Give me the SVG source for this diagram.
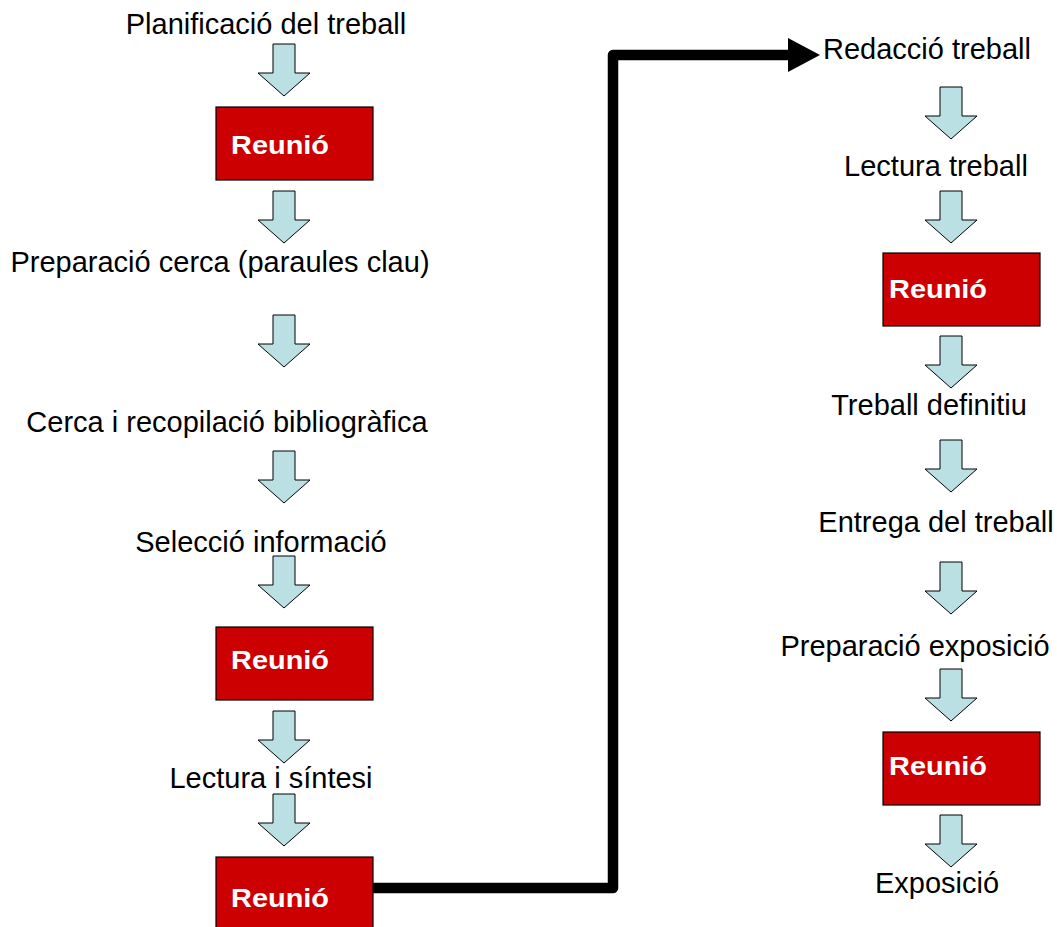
<svg xmlns="http://www.w3.org/2000/svg" xmlns:xlink="http://www.w3.org/1999/xlink" width="1057" height="927" viewBox="0 0 1057 927">
  <style>
    .lbl { font-family: "Liberation Sans", Arial, sans-serif; font-size: 29px; fill: #000; text-anchor: middle; }
    .meet rect { fill: #CC0000; stroke: #000; stroke-width: 1.2; }
    .meet text { font-family: "Liberation Sans", Arial, sans-serif; font-size: 26px; font-weight: bold; fill: #fff; }
    .down { fill: #BBE0E3; stroke: #000; stroke-width: 1; stroke-linejoin: miter; }
    .link { fill: none; stroke: #000; stroke-width: 10.5; stroke-linejoin: round; }
  </style>
  <defs>
    <!-- block arrow pointing down, origin at top centre of the shaft -->
    <path id="down" d="M-11,0 H11 V29 H26 L0,52 L-26,29 H-11 Z"/>
  </defs>
  <rect width="1057" height="927" fill="#fff"/>

  <!-- block arrows between steps -->
  <g id="arrows" class="down">
    <use xlink:href="#down" x="284" y="44"/>
    <use xlink:href="#down" x="284" y="191"/>
    <use xlink:href="#down" x="284" y="315"/>
    <use xlink:href="#down" x="284" y="451"/>
    <use xlink:href="#down" x="284" y="556"/>
    <use xlink:href="#down" x="284" y="711"/>
    <use xlink:href="#down" x="284" y="794"/>
    <use xlink:href="#down" x="951" y="87"/>
    <use xlink:href="#down" x="951" y="191"/>
    <use xlink:href="#down" x="951" y="336"/>
    <use xlink:href="#down" x="951" y="440"/>
    <use xlink:href="#down" x="951" y="562"/>
    <use xlink:href="#down" x="951" y="669"/>
    <use xlink:href="#down" x="951" y="815"/>
  </g>

  <!-- connector from the left column to the right column -->
  <g id="connectors">
    <path class="link" d="M373,888 H613 V55 H790"/>
    <polygon points="788,38 820,55 788,72" fill="#000"/>
  </g>

  <!-- left column -->
  <g id="n-planificacio"><text class="lbl" x="266" y="34">Planificació del treball</text></g>
  <g id="n-reunio1" class="meet"><rect x="216" y="107" width="157" height="73"/><text x="231" y="154" textLength="98" lengthAdjust="spacingAndGlyphs">Reunió</text></g>
  <g id="n-preparacio-cerca"><text class="lbl" x="220" y="272">Preparació cerca (paraules clau)</text></g>
  <g id="n-cerca"><text class="lbl" x="227" y="432">Cerca i recopilació bibliogràfica</text></g>
  <g id="n-seleccio"><text class="lbl" x="261" y="552">Selecció informació</text></g>
  <g id="n-reunio2" class="meet"><rect x="216" y="627" width="157" height="73"/><text x="231" y="669" textLength="98" lengthAdjust="spacingAndGlyphs">Reunió</text></g>
  <g id="n-lectura-sintesi"><text class="lbl" x="271" y="788">Lectura i síntesi</text></g>
  <g id="n-reunio3" class="meet"><rect x="216" y="857" width="157" height="73"/><text x="231" y="907" textLength="98" lengthAdjust="spacingAndGlyphs">Reunió</text></g>

  <!-- right column -->
  <g id="n-redaccio"><text class="lbl" x="927" y="59">Redacció treball</text></g>
  <g id="n-lectura-treball"><text class="lbl" x="936" y="176">Lectura treball</text></g>
  <g id="n-reunio4" class="meet"><rect x="883" y="253" width="157" height="73"/><text x="889" y="298" textLength="98" lengthAdjust="spacingAndGlyphs">Reunió</text></g>
  <g id="n-definitiu"><text class="lbl" x="929" y="415">Treball definitiu</text></g>
  <g id="n-entrega"><text class="lbl" x="936" y="532">Entrega del treball</text></g>
  <g id="n-preparacio-expo"><text class="lbl" x="915" y="656">Preparació exposició</text></g>
  <g id="n-reunio5" class="meet"><rect x="883" y="732" width="157" height="73"/><text x="889" y="775" textLength="98" lengthAdjust="spacingAndGlyphs">Reunió</text></g>
  <g id="n-exposicio"><text class="lbl" x="937" y="893">Exposició</text></g>
</svg>
